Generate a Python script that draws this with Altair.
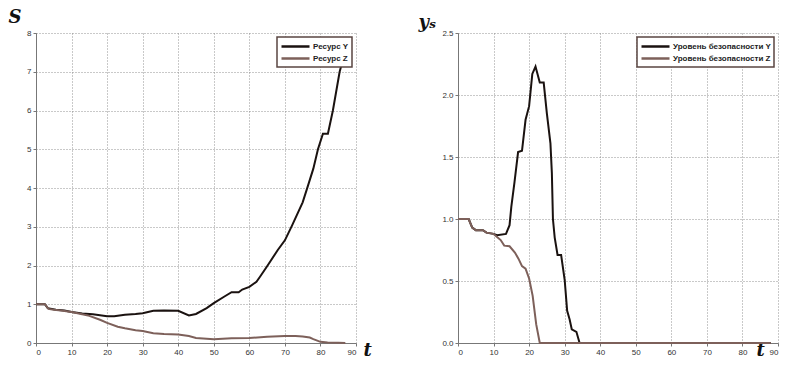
import altair as alt
import pandas as pd

# Left panel: resources
ty = [0, 2.5, 3.3, 5.6, 8, 10, 13, 16, 20, 22, 25, 28, 30, 33, 36, 40, 43, 45, 48, 50, 53, 55, 57, 58, 60, 62, 63, 65, 68, 70, 72, 75, 76.5, 78, 79.3, 80.7, 82.1, 83.5, 85.4, 86.3, 87.2]
sy = [1.0, 1.0, 0.9, 0.86, 0.84, 0.8, 0.76, 0.74, 0.69, 0.69, 0.73, 0.75, 0.77, 0.83, 0.84, 0.83, 0.71, 0.75, 0.9, 1.03, 1.2, 1.31, 1.31, 1.38, 1.45, 1.58, 1.71, 1.98, 2.4, 2.65, 3.03, 3.63, 4.06, 4.5, 5.0, 5.4, 5.4, 6.0, 7.0, 7.3, 7.7]
tz = [0, 2.5, 3.5, 5, 7, 10, 13, 15, 18, 20, 23, 25, 28, 30, 33, 36, 40, 43, 45, 48, 50, 55, 60, 65, 70, 73, 75, 77, 78, 80, 82, 85, 87]
sz = [1.0, 1.0, 0.88, 0.86, 0.84, 0.8, 0.74, 0.7, 0.6, 0.52, 0.42, 0.38, 0.33, 0.31, 0.25, 0.23, 0.22, 0.18, 0.13, 0.11, 0.1, 0.12, 0.13, 0.16, 0.18, 0.18, 0.17, 0.14, 0.1, 0.03, 0.01, 0.005, 0.0]

# Right panel: safety levels
ry_t = [0, 3, 4, 5, 7, 8, 10, 11, 13.5, 14.5, 15, 15.9, 16.9, 18, 19, 20, 20.9, 21.8, 23, 24.1, 25, 26, 26.4, 26.7, 27.2, 28, 29, 30, 30.7, 31.4, 32, 33.3, 34.2, 88]
ry_v = [1.0, 1.0, 0.93, 0.91, 0.91, 0.89, 0.88, 0.87, 0.88, 0.95, 1.1, 1.3, 1.54, 1.55, 1.8, 1.91, 2.17, 2.23, 2.1, 2.1, 1.85, 1.61, 1.37, 1.0, 0.85, 0.71, 0.71, 0.51, 0.26, 0.19, 0.11, 0.09, 0.0, 0.0]
rz_t = [0, 3, 4, 5, 7, 8, 10, 12, 13, 14.5, 16, 17, 18, 19, 20, 21, 22, 23, 88]
rz_v = [1.0, 1.0, 0.93, 0.91, 0.91, 0.89, 0.88, 0.83, 0.785, 0.78, 0.73, 0.68, 0.62, 0.6, 0.52, 0.38, 0.15, 0.0, 0.0]

left_names = ["Ресурс Y", "Ресурс Z"]
right_names = ["Уровень безопасности Y", "Уровень безопасности Z"]
colors = ["#1a1210", "#7d605a"]

dl = pd.DataFrame({"t": ty + tz, "v": sy + sz,
                   "s": [left_names[0]] * len(ty) + [left_names[1]] * len(tz),
                   "o": list(range(len(ty))) + list(range(len(tz)))})
dr = pd.DataFrame({"t": ry_t + rz_t, "v": ry_v + rz_v,
                   "s": [right_names[0]] * len(ry_t) + [right_names[1]] * len(rz_t),
                   "o": list(range(len(ry_t))) + list(range(len(rz_t)))})

axis_common = dict(gridDash=[1, 2], gridColor="#888", gridOpacity=0.9, domainColor="#777",
                   tickColor="#777", tickSize=3, labelFontSize=8, labelColor="#333",
                   labelFont="Liberation Sans", titleFont="DejaVu Serif", titleFontStyle="italic",
                   titleFontWeight="bold", titleFontSize=18, titleAngle=0, titleColor="#111",
                   titleAlign="left", titleBaseline="alphabetic")

legend_common = dict(orient="top-right", offset=4, strokeColor="#5a4642", fillColor="white",
                     padding=3, labelFontSize=8, labelFont="Liberation Sans", labelFontWeight="bold",
                     labelColor="#222", symbolType="M-1,0H4.6", symbolSize=100, symbolStrokeWidth=2.5,
                     rowPadding=0, labelOffset=20, title=None, cornerRadius=0)


def panel(df, names, ymax, yvals, ytitle, ytx, yty, xtx):
    return alt.Chart(df).mark_line(strokeWidth=2).encode(
        x=alt.X("t:Q", scale=alt.Scale(domain=[0, 90], nice=False),
                axis=alt.Axis(values=list(range(0, 91, 10)), title="t", titleX=xtx, titleY=12,
                              **axis_common)),
        y=alt.Y("v:Q", scale=alt.Scale(domain=[0, ymax], nice=False),
                axis=alt.Axis(values=yvals, title=ytitle, titleX=ytx, titleY=yty,
                              **axis_common)),
        color=alt.Color("s:N", scale=alt.Scale(domain=names, range=colors),
                        legend=alt.Legend(**legend_common)),
        order="o:Q",
    ).properties(width=320, height=310)


left = panel(dl, left_names, 8, list(range(0, 9)), "S", -28, -11, 327)
right = panel(dr, right_names, 2.5, [0, 0.5, 1, 1.5, 2, 2.5], "yₛ", -40, -6, 298)

chart = alt.hconcat(left, right, spacing=102, bounds="flush").resolve_scale(
    color="independent").configure_view(stroke=None).configure_legend(strokeWidth=1.5).properties(
    padding={"left": 0, "top": 0, "right": 0, "bottom": 0})

chart.save("out.html", embed_options={"renderer": "svg", "actions": False})
